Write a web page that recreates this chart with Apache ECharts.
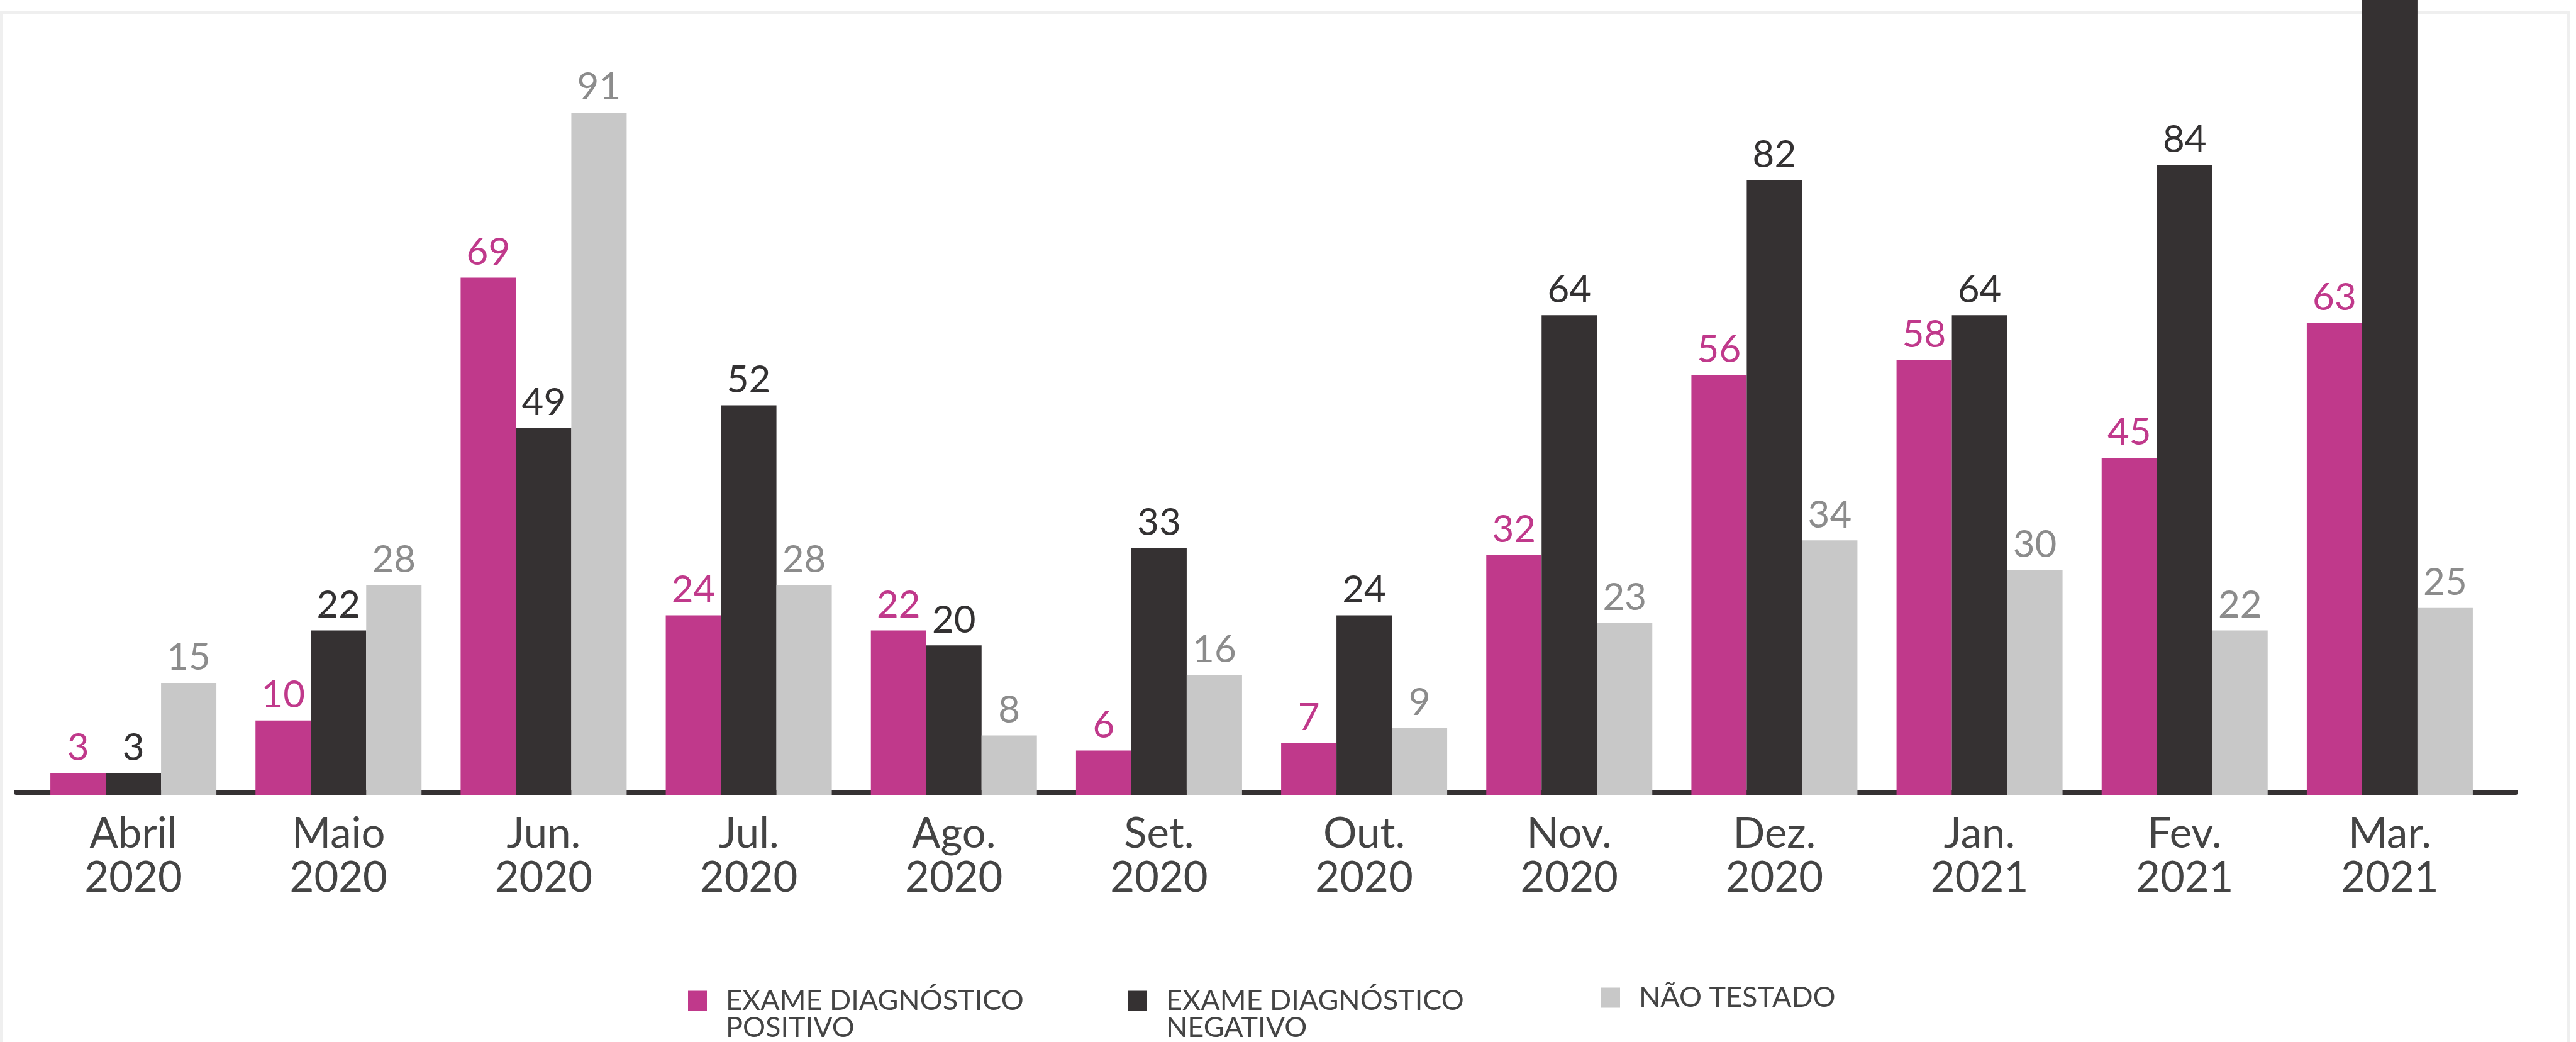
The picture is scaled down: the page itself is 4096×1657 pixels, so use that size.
<!DOCTYPE html>
<html>
<head>
<meta charset="utf-8">
<script src="https://cdn.jsdelivr.net/npm/echarts@6/dist/echarts.min.js"></script>
<style>
    html, body { margin: 0; padding: 0; background: #fff; }
    #main { width: 4096px; height: 1657px; }
</style>
</head>
<body>
<div id="main"></div>
<script>
var months = ['Abril', 'Maio', 'Jun.', 'Jul.', 'Ago.', 'Set.', 'Out.', 'Nov.', 'Dez.', 'Jan.', 'Fev.', 'Mar.'];
var years = ['2020', '2020', '2020', '2020', '2020', '2020', '2020', '2020', '2020', '2021', '2021', '2021'];

var posName = 'EXAME DIAGNÓSTICO\nPOSITIVO';
var negName = 'EXAME DIAGNÓSTICO\nNEGATIVO';
var ntName = 'NÃO TESTADO';

var positivo = [3, 10, 69, 24, 22, 6, 7, 32, 56, 58, 45, 63];
// last value runs off the top of the picture, so it is only an estimate
var negativo = [3, 22, 49, 52, 20, 33, 24, 64, 82, 64, 84, 110];
var naoTestado = [15, 28, 91, 28, 8, 16, 9, 23, 34, 30, 22, 25];

var PINK = '#c0398b';
var DARK = '#353132';
var GREY = '#c8c8c8';
var FONT = 'Lato';

var categories = months.map(function (m, i) { return m + '\n' + years[i]; });

function barSeries(name, data, color, labelColor) {
    return {
        name: name,
        type: 'bar',
        data: data,
        barWidth: 88,
        barGap: '0%',
        itemStyle: { color: color },
        label: {
            show: true,
            position: 'top',
            distance: 10,
            color: labelColor,
            fontSize: 60,
            fontFamily: FONT
        }
    };
}

function legendAt(name, left, top, twoLines) {
    return {
        data: [name],
        left: left,
        top: top,
        padding: 0,
        icon: 'rect',
        itemWidth: 30,
        itemHeight: 32,
        selectedMode: false,
        // leading empty line keeps the first text line level with the swatch
        formatter: function (n) { return twoLines ? '\n' + n : n; },
        textStyle: {
            fontSize: 45,
            lineHeight: 43,
            color: '#444',
            fontFamily: FONT,
            padding: [0, 0, 0, 25]
        }
    };
}

var chart = echarts.init(document.getElementById('main'));

var negSeries = barSeries(negName, negativo.map(function (v, i) {
    return i === negativo.length - 1 ? { value: v, label: { show: false } } : v;
}), DARK, '#333132');

var option = {
    animation: false,
    backgroundColor: '#fff',
    graphic: {
        elements: [{
            type: 'rect',
            silent: true,
            z: 0,
            shape: { x: 2.5, y: 19.5, width: 4082, height: 1700 },
            style: { fill: null, stroke: '#efefef', lineWidth: 5 }
        }]
    },
    legend: [
        legendAt(posName, 1094, 1526, true),
        legendAt(negName, 1794, 1526, true),
        legendAt(ntName, 2546, 1564, false)
    ],
    grid: [
        { left: 49, right: 133, top: 0, bottom: 392 },
        { left: 26, right: 96, top: 0, bottom: 397 }
    ],
    xAxis: [{
        type: 'category',
        data: categories,
        axisLine: { show: false },
        axisTick: { show: false },
        axisLabel: {
            interval: 0,
            margin: 26,
            fontSize: 67,
            lineHeight: 70,
            color: '#444',
            fontFamily: FONT
        }
    }, {
        // plain baseline, a bit wider than the bar area
        type: 'value',
        gridIndex: 1,
        min: 0,
        max: 1,
        axisLine: { show: true, lineStyle: { color: DARK, width: 8 } },
        axisTick: { show: false },
        axisLabel: { show: false },
        splitLine: { show: false }
    }],
    yAxis: [
        { type: 'value', min: 0, max: 106, show: false },
        { type: 'value', gridIndex: 1, min: 0, max: 1, show: false }
    ],
    series: [
        barSeries(posName, positivo, PINK, PINK),
        negSeries,
        barSeries(ntName, naoTestado, GREY, '#8c8c8c')
    ]
};

chart.setOption(option);
</script>
</body>
</html>
